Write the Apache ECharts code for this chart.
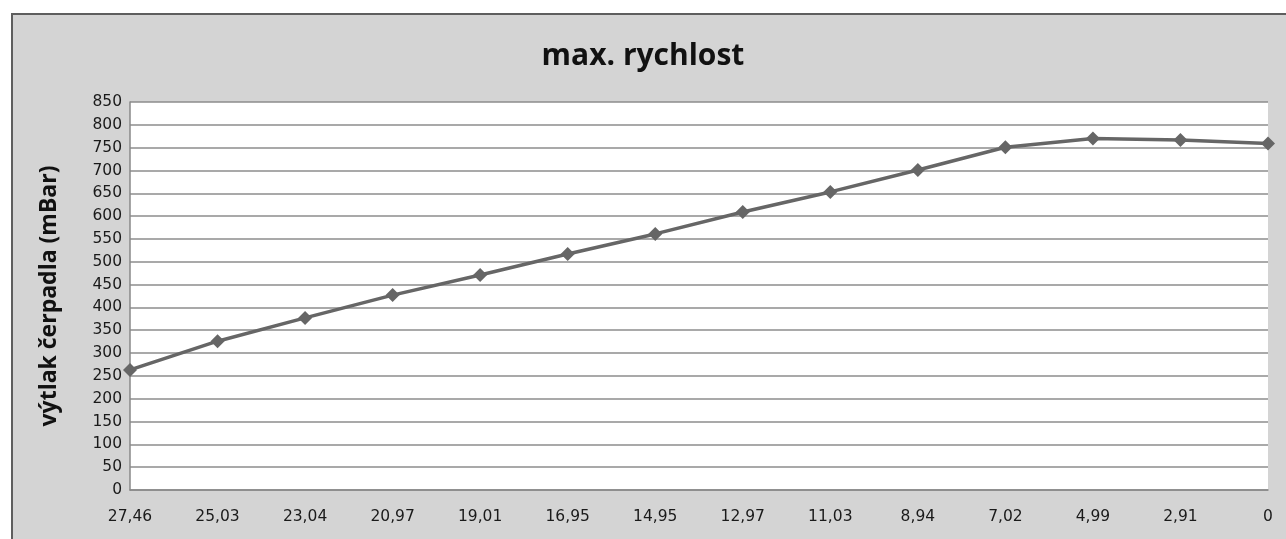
<!DOCTYPE html>
<html>
<head>
<meta charset="utf-8">
<script src="https://cdn.jsdelivr.net/npm/echarts@6/dist/echarts.min.js"></script>
<style>
  html, body { margin: 0; padding: 0; background: #ffffff; overflow: hidden; }
  #frame {
    position: absolute; left: 11px; top: 13px;
    width: 1300px; height: 560px;
    background: #d4d4d4; border: 2px solid #5e5e5e;
  }
  #chart { position: absolute; left: 0; top: 0; width: 1286px; height: 539px; }
</style>
</head>
<body>
<div id="frame"></div>
<div id="chart"></div>
<script>
  // průtok (osa x) a výtlak čerpadla
  var categories = ['27,46', '25,03', '23,04', '20,97', '19,01', '16,95', '14,95',
                    '12,97', '11,03', '8,94', '7,02', '4,99', '2,91', '0'];
  var pressure = [263, 326, 377, 427, 471, 517, 561, 609, 653, 701, 751, 770, 767, 759];

  var chartDom = document.getElementById('chart');
  var myChart = echarts.init(chartDom);
  var font = '"Open Sans", "DejaVu Sans", sans-serif';
  var tickFont = '"DejaVu Sans", sans-serif';

  var option = {
    animation: false,
    title: {
      text: 'max. rychlost',
      left: 'center',
      top: 36,
      textStyle: { fontFamily: font, fontSize: 30, fontWeight: 'bold', color: '#111' }
    },
    grid: {
      left: 130, top: 102, right: 18, bottom: 49,
      show: true, backgroundColor: '#ffffff', borderWidth: 0
    },
    xAxis: {
      type: 'category',
      data: categories,
      boundaryGap: false,
      axisLine: { lineStyle: { color: '#888', width: 1.5 } },
      axisTick: { show: false },
      axisLabel: { margin: 19, fontFamily: tickFont, fontSize: 15.5, color: '#1a1a1a' },
      splitLine: { show: false }
    },
    yAxis: {
      type: 'value',
      min: 0, max: 850, interval: 50,
      name: 'výtlak čerpadla (mBar)',
      nameLocation: 'middle',
      nameGap: 69,
      nameTextStyle: { fontFamily: font, fontSize: 23, fontWeight: 'bold', color: '#111' },
      axisLine: { show: true, lineStyle: { color: '#888', width: 1.5 } },
      axisTick: { show: false },
      axisLabel: { margin: 8, fontFamily: tickFont, fontSize: 15.5, color: '#1a1a1a' },
      splitLine: { lineStyle: { color: '#8c8c8c', width: 1.5 } }
    },
    series: [{
      name: 'max. rychlost',
      type: 'line',
      data: pressure,
      symbol: 'diamond',
      symbolSize: 14,
      lineStyle: { color: '#666666', width: 3.5 },
      itemStyle: { color: '#666666' }
    }]
  };
  option && myChart.setOption(option);
</script>
</body>
</html>
